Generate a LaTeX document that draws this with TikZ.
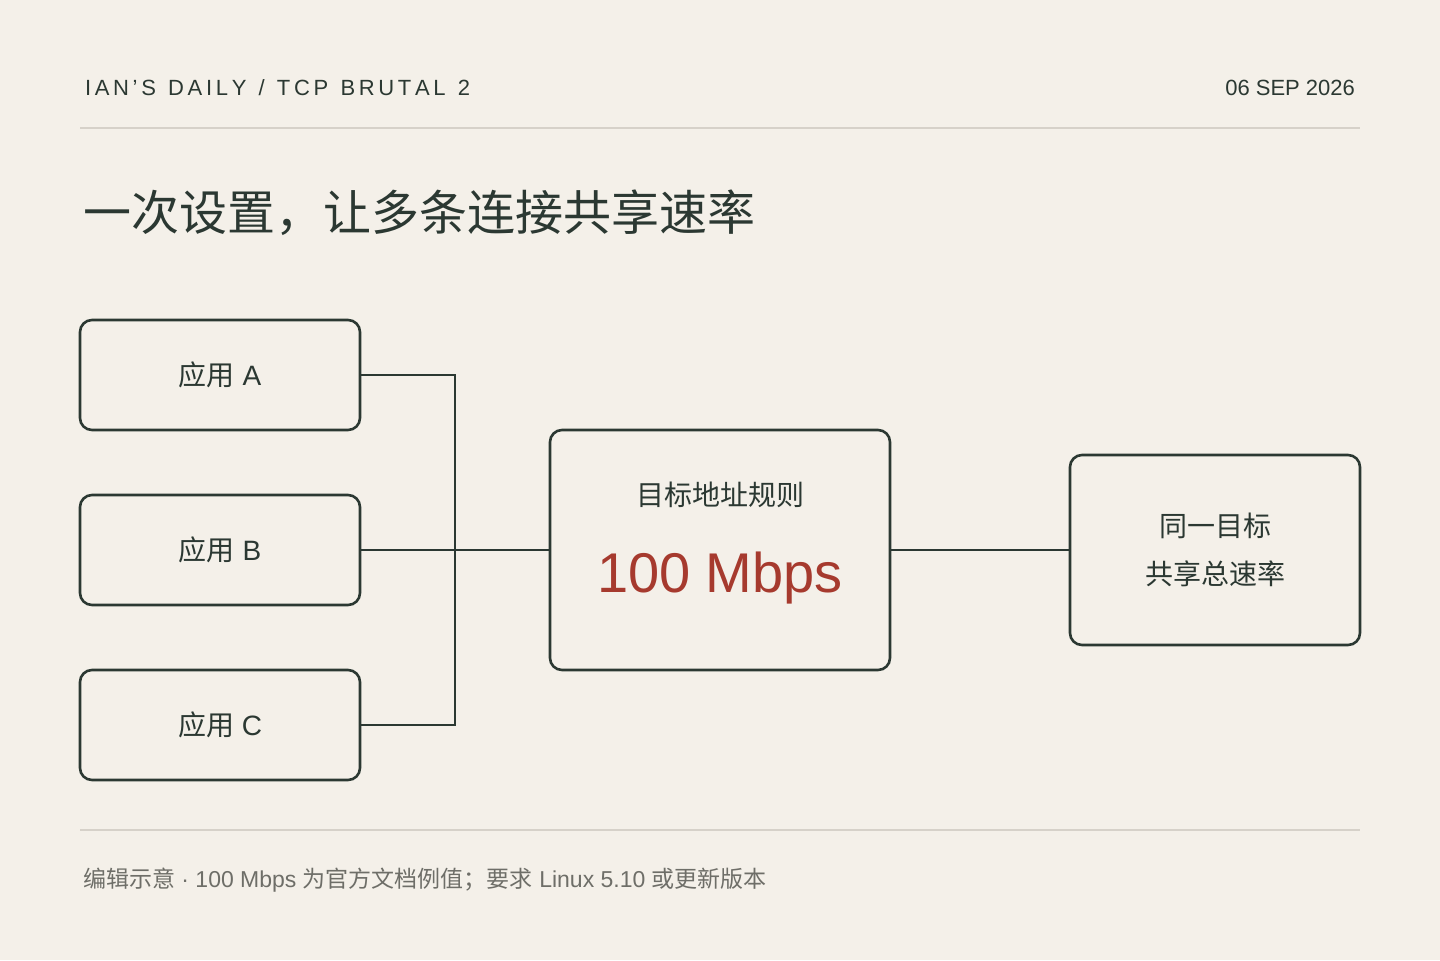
\documentclass[tikz,border=0pt]{standalone}
\usepackage{fontspec}
\setmainfont{Liberation Sans}
\newfontfamily\cjk{Noto Sans CJK SC}
\usetikzlibrary{positioning}
\definecolor{paper}{HTML}{F4F0E9}
\definecolor{ink}{HTML}{2B3832}
\definecolor{rule}{HTML}{D6D1C9}
\definecolor{accent}{HTML}{A63A2E}
\definecolor{muted}{HTML}{6E6E68}
\begin{document}
\begin{tikzpicture}[
    x=0.5pt, y=-0.5pt,
    box/.style={rectangle, draw=ink, line width=1.3pt, rounded corners=6pt, font=\fontsize{14}{16}\selectfont, text=ink},
    wire/.style={draw=ink, line width=1.2pt}
]
\fill[paper] (0,0) rectangle (1440,960);
\useasboundingbox (0,0) rectangle (1440,960);
% header
\node[anchor=west, text=ink, font=\fontsize{11}{13}\selectfont] (head) at (78,88) {I\,A\,N\,’\,S\ \ D\,A\,I\,L\,Y\ \ /\ \ T\,C\,P\ \ B\,R\,U\,T\,A\,L\ \ 2};
\node[anchor=east, text=ink, font=\fontsize{11}{13}\selectfont] (date) at (1362,88) {06 SEP 2026};
\draw[rule, line width=1pt] (80,128) -- (1360,128);
\node[anchor=west, text=ink, font=\cjk\fontsize{24}{28}\selectfont] (title) at (76,213) {一次设置，让多条连接共享速率};
% apps
\node[box, minimum width=140pt, minimum height=55pt] (appA) at (220,375) {{\cjk 应用} A};
\node[box, minimum width=140pt, minimum height=55pt] (appB) at (220,550) {{\cjk 应用} B};
\node[box, minimum width=140pt, minimum height=55pt] (appC) at (220,725) {{\cjk 应用} C};
% rule box
\node[box, minimum width=170pt, minimum height=120pt] (rulebox) at (720,550) {};
\node[text=ink, font=\cjk\fontsize{14}{16}\selectfont] (rtitle) at (720,495) {目标地址规则};
\node[text=accent, font=\fontsize{28}{32}\selectfont] (rate) at (720,578) {100 Mbps};
% target
\node[box, minimum width=145pt, minimum height=95pt, align=center, font=\cjk\fontsize{14}{24}\selectfont] (target) at (1215,550) {同一目标\\共享总速率};
% wires
\coordinate (jn) at (455,550);
\draw[wire] (appA.east) -| (jn) |- (appC.east);
\draw[wire] (appB.east) -- (rulebox.west);
\draw[wire] (rulebox.east) -- (target.west);
% footer
\draw[rule, line width=1pt] (80,830) -- (1360,830);
\node[anchor=west, text=muted, font=\fontsize{11.5}{13}\selectfont] (note) at (76,880) {{\cjk 编辑示意} · 100 Mbps {\cjk 为官方文档例值；要求} Linux 5.10 {\cjk 或更新版本}};
\end{tikzpicture}
\end{document}
